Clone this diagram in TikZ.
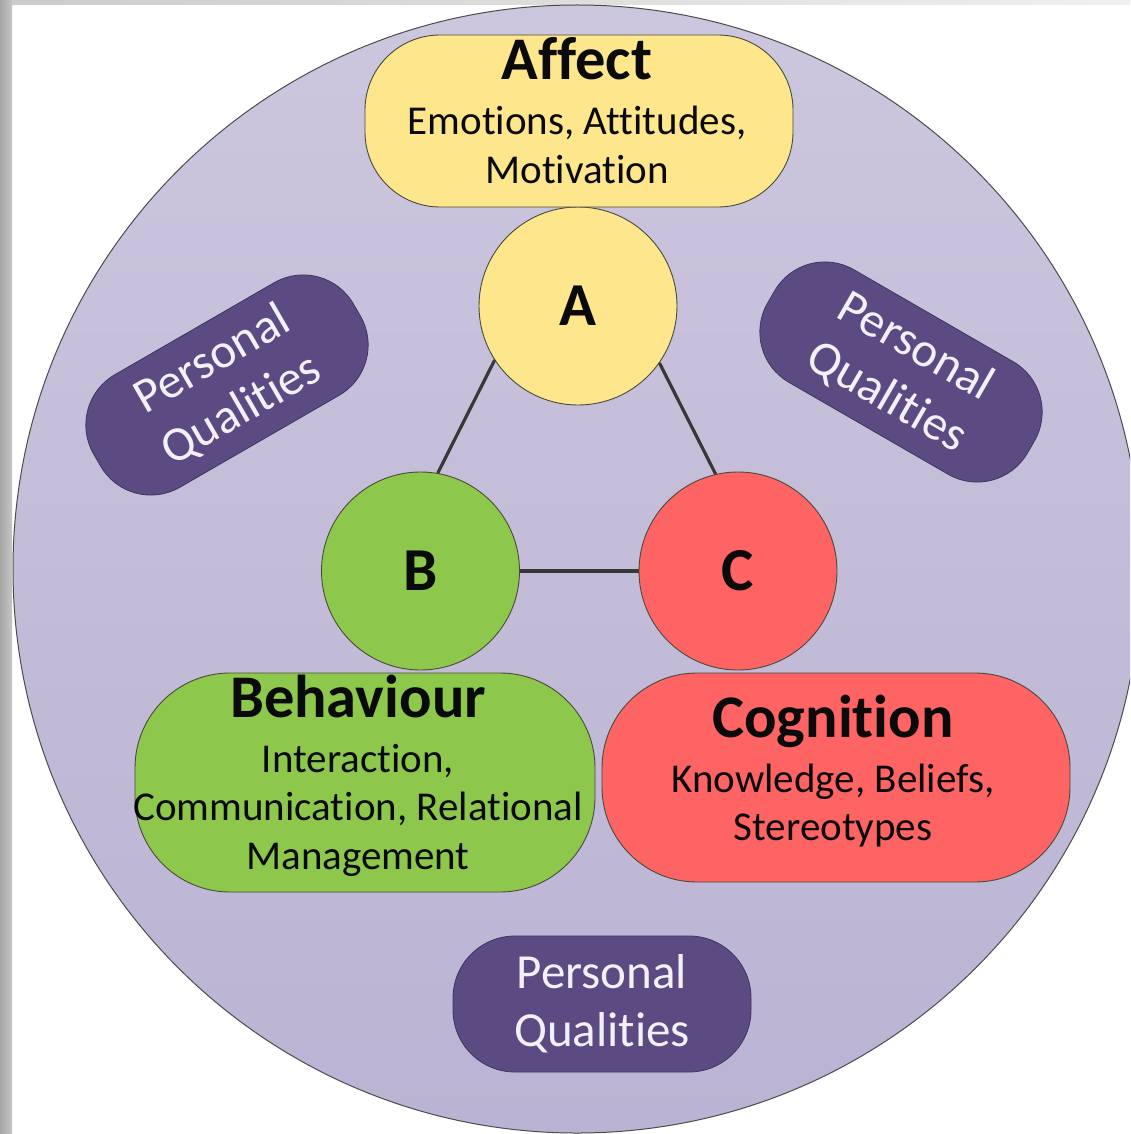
\documentclass[tikz,border=0pt]{standalone}
\usepackage{fontspec}
\setmainfont{Carlito}[Ligatures=NoCommon]
\definecolor{lavT}{HTML}{CCC6DE}
\definecolor{lavB}{HTML}{BAB3D3}
\definecolor{yel}{HTML}{FDE68C}
\definecolor{grn}{HTML}{8DC84C}
\definecolor{rd}{HTML}{FE6464}
\definecolor{pur}{HTML}{5C4B83}
\definecolor{purtxt}{HTML}{F2F0F8}
\definecolor{edge}{HTML}{4A4A3A}
\definecolor{ink}{HTML}{0A0A0A}
\tikzset{
  circ/.style={circle, minimum size=198pt, inner sep=0pt, draw=edge, line width=0.9pt,
    text=ink, font=\bfseries\fontsize{61}{61}\selectfont},
  bigbox/.style={rectangle, draw=edge, line width=0.9pt, inner sep=0pt},
  pq/.style={rectangle, fill=pur, draw=pur!70!black, line width=0.8pt, text=purtxt,
    align=center, inner sep=0pt, font=\fontsize{49}{58}\selectfont},
  ttl/.style={anchor=base, text=ink, inner sep=0pt, font=\bfseries\fontsize{60.5}{60}\selectfont},
  sub/.style={anchor=base, text=ink, inner sep=0pt, font=\fontsize{41}{41}\selectfont},
  conn/.style={draw=black!78, line width=3.2pt}
}
\begin{document}
\begin{tikzpicture}[x=1pt,y=-1pt]
\useasboundingbox (0,0) rectangle (1130,1134);
\clip (0,0) rectangle (1130,1134);
\fill[white] (0,0) rectangle (1130,1134);
\shade[left color=gray!70, right color=gray!45] (0,0) rectangle (12,1134);
\shade[left color=gray!40, right color=gray!12] (12,0) rectangle (1130,5);
% big circle
\shade[top color=lavT, bottom color=lavB] (577,569) circle (564pt);
\draw[gray!60!black, line width=1pt] (577,569) circle (564pt);

% circles and connectors
\node[circ, fill=yel] (A) at (578,306) {A};
\node[circ, fill=grn] (B) at (420.5,571) {B};
\node[circ, fill=rd] (C) at (738,571) {C};
\draw[conn] (A.213) -- (B.80);
\draw[conn] (A.325) -- (C.103);
\draw[conn] (B) -- (C);

% Affect
\node[bigbox, fill=yel, minimum width=428pt, minimum height=172pt, rounded corners=75pt] (affect) at (579,121) {};
\node[ttl] (affT) at (577,80) {Affect};
\node[sub] (affL1) at (577,135) {Emotions, Attitudes,};
\node[sub] (affL2) at (577,183) {Motivation};

% Behaviour
\node[bigbox, fill=grn, minimum width=460pt, minimum height=219pt, rounded corners=95pt] (behav) at (365,782.5) {};
\node[ttl] (behT) at (358,717) {Behaviour};
\node[sub] (behL1) at (358,772) {Interaction,};
\node[sub] (behL2) at (358,820) {Communication, Relational};
\node[sub] (behL3) at (358,869) {Management};

% Cognition
\node[bigbox, fill=rd, minimum width=468pt, minimum height=209pt, rounded corners=95pt] (cogn) at (836,777.5) {};
\node[ttl] (cogT) at (833,737) {Cognition};
\node[sub] (cogL1) at (833,792) {Knowledge, Beliefs,};
\node[sub] (cogL2) at (833,840) {Stereotypes};

% Personal Qualities
\node[pq, minimum width=300pt, minimum height=130pt, rounded corners=58pt, rotate=30] (pqL) at (227,385) {Personal\\Qualities};
\node[pq, minimum width=300pt, minimum height=130pt, rounded corners=58pt, rotate=-30] (pqR) at (901,372) {Personal\\Qualities};
\node[pq, minimum width=298pt, minimum height=136pt, rounded corners=62pt] (pqB) at (602,1004) {Personal\\Qualities};
\end{tikzpicture}
\end{document}
